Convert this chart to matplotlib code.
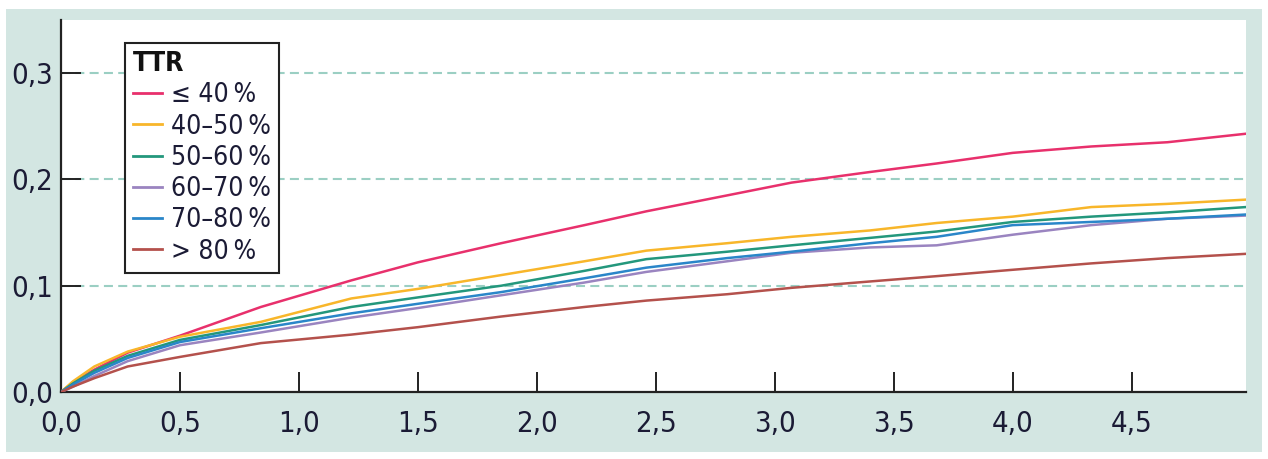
import matplotlib
matplotlib.use("Agg")
import matplotlib.pyplot as plt
from matplotlib.patches import Rectangle

plt.rcParams['font.family'] = ['DejaVu Sans']
plt.rcParams['font.stretch'] = 'condensed'
plt.rcParams['lines.scale_dashes'] = False

# follow-up time (years) and cumulative incidence per TTR group
years = [0, 0.05, 0.14, 0.28, 0.5, 0.84, 1.22, 1.5, 1.85, 2.2, 2.46, 2.8,
         3.07, 3.4, 3.68, 4.0, 4.33, 4.65, 4.98]
ttr_le40 = [0, 0.009, 0.021, 0.037, 0.053, 0.080, 0.105, 0.122, 0.140, 0.157,
            0.170, 0.185, 0.197, 0.207, 0.215, 0.225, 0.231, 0.235, 0.243]
ttr_40_50 = [0, 0.010, 0.024, 0.038, 0.052, 0.066, 0.088, 0.097, 0.110, 0.123,
             0.133, 0.140, 0.146, 0.152, 0.159, 0.165, 0.174, 0.177, 0.181]
ttr_50_60 = [0, 0.008, 0.020, 0.034, 0.049, 0.063, 0.080, 0.089, 0.100, 0.114,
             0.125, 0.132, 0.138, 0.145, 0.151, 0.160, 0.165, 0.169, 0.174]
ttr_60_70 = [0, 0.005, 0.015, 0.029, 0.044, 0.056, 0.070, 0.079, 0.091, 0.103,
             0.113, 0.123, 0.131, 0.136, 0.138, 0.148, 0.157, 0.163, 0.166]
ttr_70_80 = [0, 0.007, 0.018, 0.032, 0.047, 0.060, 0.074, 0.083, 0.094, 0.107,
             0.117, 0.126, 0.132, 0.140, 0.146, 0.157, 0.160, 0.163, 0.167]
ttr_gt80 = [0, 0.005, 0.013, 0.024, 0.033, 0.046, 0.054, 0.061, 0.071, 0.080,
            0.086, 0.092, 0.098, 0.104, 0.109, 0.115, 0.121, 0.126, 0.130]

labels = ['≤ 40\u2009%', '40–50\u2009%', '50–60\u2009%', '60–70\u2009%',
          '70–80\u2009%', '> 80\u2009%']
series = [ttr_le40, ttr_40_50, ttr_50_60, ttr_60_70, ttr_70_80, ttr_gt80]
colors = ['#e8306c', '#f8b62a', '#23977c', '#9a84c0', '#2a86c9', '#b4514c']

xticks = [0, 0.5, 1.0, 1.5, 2.0, 2.5, 3.0, 3.5, 4.0, 4.5]
yticks = [0, 0.1, 0.2, 0.3]
txt = '#1b1b35'

fig = plt.figure(figsize=(12.68, 4.59), dpi=100, facecolor='white')
fig.add_artist(Rectangle((6 / 1268, 7 / 459), 1256 / 1268, 443 / 459,
                         transform=fig.transFigure, facecolor='#d3e6e2',
                         edgecolor='none', zorder=-1))
ax = fig.add_axes([61 / 1268, 67 / 459, 1185 / 1268, 372 / 459])
ax.set_facecolor('white')

for yv in yticks[1:]:
    ax.axhline(yv, color='#9bcfc3', lw=1.5, linestyle=(0, (6.5, 3.8)), zorder=1)

for vals, lab, col in zip(series, labels, colors):
    ax.plot(years, vals, color=col, lw=1.8, label=lab, zorder=3)

ax.set_xlim(0, 4.98)
ax.set_ylim(0, 0.35)
ax.set_xticks(xticks)
ax.set_xticklabels([f'{v:.1f}'.replace('.', ',') for v in xticks])
ax.set_yticks(yticks)
ax.set_yticklabels([f'{v:.1f}'.replace('.', ',') for v in yticks])

for side in ['top', 'right']:
    ax.spines[side].set_visible(False)
for side in ['left', 'bottom']:
    ax.spines[side].set_linewidth(1.6)
    ax.spines[side].set_color('#222222')
ax.tick_params(direction='in', length=14.5, width=1.4, color='#222222',
               labelsize=21, labelcolor=txt)
ax.tick_params(axis='x', pad=13)
ax.tick_params(axis='y', pad=6)

leg = ax.legend(loc='upper left', bbox_to_anchor=(0.054, 0.938),
                borderaxespad=0, title='TTR', fontsize=19,
                title_fontproperties={'weight': 'bold', 'size': 19,
                                      'stretch': 'condensed'},
                handlelength=1.1, handletextpad=0.35, labelspacing=0.2,
                borderpad=0.3, fancybox=False, framealpha=1,
                edgecolor='#222222', alignment='left')
leg.get_frame().set_linewidth(1.5)
for t in leg.get_texts():
    t.set_color(txt)
leg.get_title().set_color('#111111')
for h in leg.get_lines():
    h.set_linewidth(2)

fig.savefig('out.png', dpi=100, facecolor='white')
